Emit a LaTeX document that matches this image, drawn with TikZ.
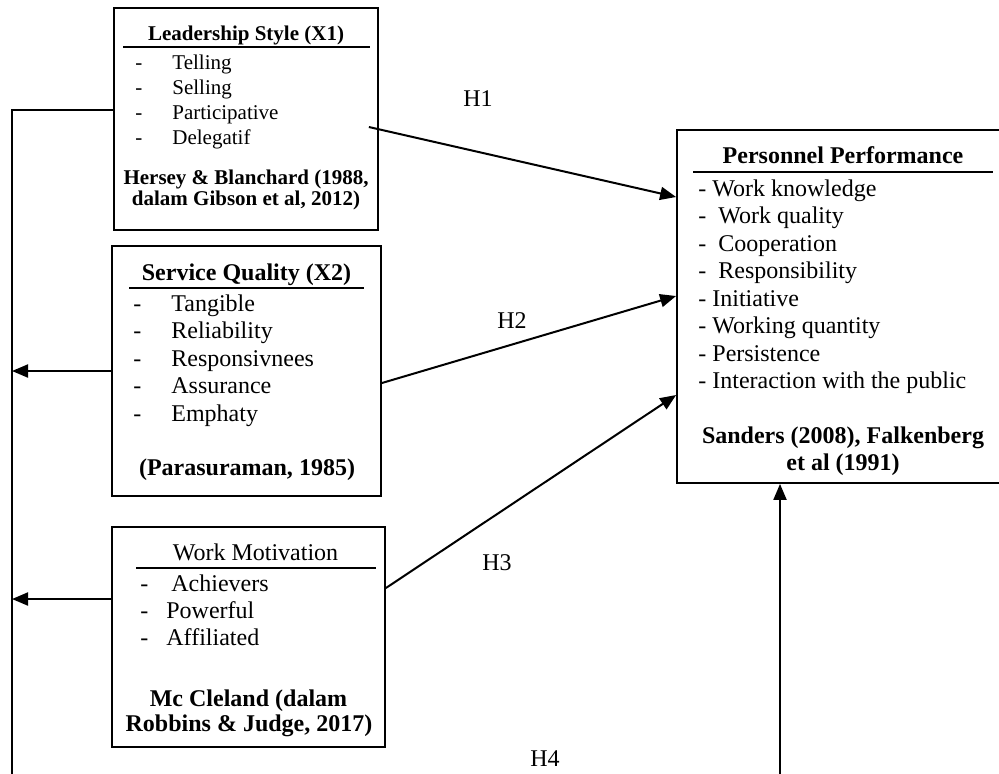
\documentclass[tikz,border=0pt]{standalone}
\usepackage{fontspec}
\setmainfont{Liberation Serif}
\usetikzlibrary{arrows.meta,positioning}
\newcommand\bodyfont{\fontsize{12}{14}\selectfont}
\newcommand\smallfont{\fontsize{10.5}{12.6}\selectfont}
\tikzset{
    box/.style={draw, line width=0.9pt, inner sep=0pt},
    lbl/.style={anchor=base, yshift=-4pt, inner sep=0pt, font=\bodyfont},
    ttl/.style={lbl, font=\bodyfont\bfseries},
    itm/.style={anchor=base west, yshift=-4pt, inner sep=0pt, font=\bodyfont},
    sttl/.style={lbl, font=\smallfont\bfseries},
    sitm/.style={itm, font=\smallfont},
    uline/.style={line width=1pt},
    conn/.style={line width=1pt},
    arr/.style={line width=1pt, -{Triangle[length=8pt,width=6.5pt]}}
}

\begin{document}
\begin{tikzpicture}[x=0.5pt, y=-0.5pt]
    \useasboundingbox (0,0) rectangle (999,773);
    \clip (0,0) rectangle (999,773);

    \node[box, minimum width=132pt, minimum height=111pt] (ls) at (246,119) {};
    \node[box, minimum width=134.5pt, minimum height=125pt] (sq) at (246.5,371) {};
    \node[box, minimum width=136.5pt, minimum height=110pt] (wm) at (248.5,637) {};
    \node[box, minimum width=171.5pt, minimum height=176.5pt] (pp) at (848.5,306.5) {};

    % leadership style
    \node[sttl] (ls-t) at (246,32) {Leadership Style (X1)};
    \draw[uline] (123,47) -- (370,47);
    \foreach \t [count=\i] in {Telling, Selling, Participative, Delegatif} {
        \node[sitm] (ls-d\i) at (135,36+25*\i) {-};
        \node[sitm] (ls-i\i) at (172,36+25*\i) {\t};
    }
    \node[sttl] (ls-c1) at (246,176) {Hersey \& Blanchard (1988,};
    \node[sttl] (ls-c2) at (246,197) {dalam Gibson et al, 2012)};

    % service quality
    \node[ttl] (sq-t) at (246.5,272) {Service Quality (X2)};
    \draw[uline] (129,288) -- (364,288);
    \foreach \t [count=\i] in {Tangible, Reliability, Responsivnees, Assurance, Emphaty} {
        \node[itm] (sq-d\i) at (133,275.5+27.5*\i) {-};
        \node[itm] (sq-i\i) at (171,275.5+27.5*\i) {\t};
    }
    \node[ttl] (sq-c) at (247,467) {(Parasuraman, 1985)};

    % work motivation
    \node[lbl] (wm-t) at (255.5,552) {Work Motivation};
    \draw[uline] (136,568) -- (376,568);
    \node[itm] (wm-d1) at (140,583) {-};
    \node[itm] (wm-i1) at (171,583) {Achievers};
    \node[itm] (wm-d2) at (140,610) {-};
    \node[itm] (wm-i2) at (166,610) {Powerful};
    \node[itm] (wm-d3) at (140,637) {-};
    \node[itm] (wm-i3) at (166,637) {Affiliated};
    \node[ttl] (wm-c1) at (248.5,698) {Mc Cleland (dalam};
    \node[ttl] (wm-c2) at (249,723) {Robbins \& Judge, 2017)};

    % personnel performance
    \node[ttl] (pp-t) at (843,155) {Personnel Performance};
    \draw[uline] (693,172) -- (993,172);
    \foreach \t [count=\i] in {- Work knowledge, -\ \ Work quality, -\ \ Cooperation,
        -\ \ Responsibility, - Initiative, - Working quantity, - Persistence,
        - Interaction with the public} {
        \node[itm] (pp-i\i) at (698,160.5+27.5*\i) {\t};
    }
    \node[ttl] (pp-c1) at (843,435) {Sanders (2008), Falkenberg};
    \node[ttl] (pp-c2) at (843,462) {et al (1991)};

    % hypotheses
    \draw[arr] ([xshift=-5pt,yshift=-4pt]ls.east) -- ([yshift=54.75pt]pp.west);
    \draw[arr] ([yshift=-6pt]sq.east) -- ([yshift=5.25pt]pp.west);
    \draw[arr] ([yshift=24.5pt]wm.east) -- ([yshift=-44.25pt]pp.west);
    \node[lbl] (h1) at (478,98) {H1};
    \node[lbl] (h2) at (512,320) {H2};
    \node[lbl] (h3) at (497,562) {H3};
    \node[lbl] (h4) at (545,758) {H4};

    % feedback lines
    \coordinate (lft) at (12,780);
    \draw[conn] ([yshift=4.5pt]ls.west) -| (lft);
    \draw[arr] (sq.west) -- (sq.west -| lft);
    \coordinate (wmo) at ([yshift=19pt]wm.west);
    \draw[arr] (wmo) -- (wmo -| lft);
    \coordinate (bot) at (780,780);
    \draw[arr] (bot) -- (bot |- pp.south);
\end{tikzpicture}
\end{document}
